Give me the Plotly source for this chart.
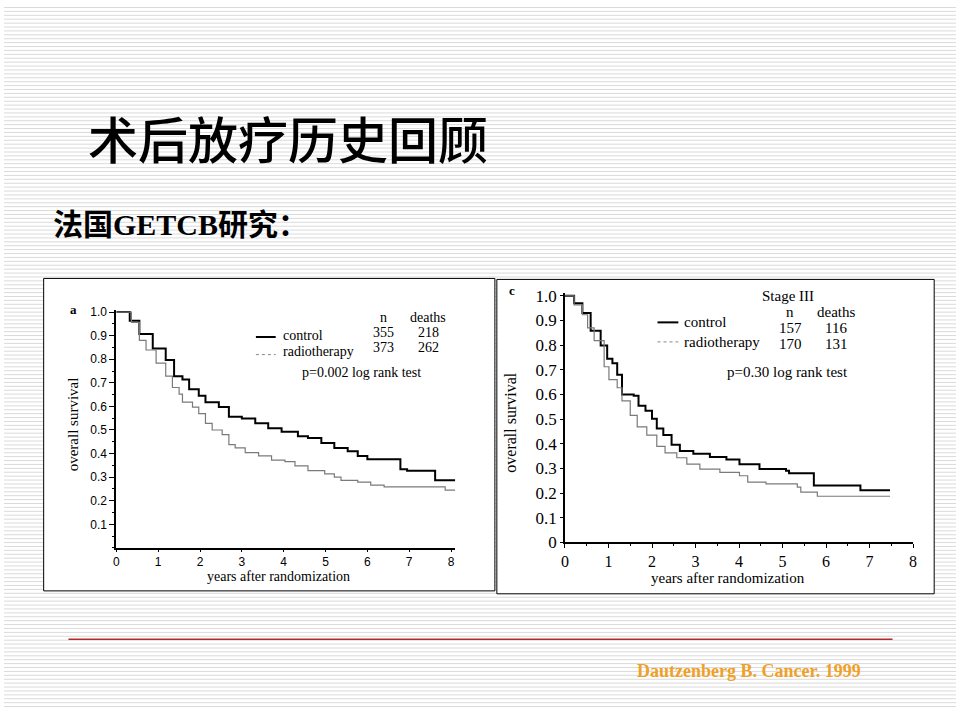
import plotly.graph_objects as go

# ---- data ----
# panel a: all patients
a_control_t = [0, 0.32, 0.55, 0.87, 1.18, 1.38, 1.58, 1.74, 1.97, 2.13, 2.45, 2.69, 3.0, 3.32,
               3.63, 3.95, 4.34, 4.58, 4.9, 5.21, 5.53, 5.77, 6.0, 6.79, 6.95, 7.62, 8.1]
a_control_s = [1.0, 0.963, 0.907, 0.845, 0.797, 0.728, 0.714, 0.673, 0.645, 0.618, 0.597, 0.556, 0.549, 0.528,
               0.507, 0.493, 0.473, 0.466, 0.445, 0.424, 0.41, 0.39, 0.376, 0.334, 0.327, 0.287, 0.287]
a_radio_t = [0, 0.36, 0.55, 0.71, 0.95, 1.18, 1.34, 1.5, 1.58, 1.82, 1.97, 2.13, 2.29, 2.53, 2.69,
             2.84, 3.08, 3.4, 3.71, 4.03, 4.27, 4.58, 4.98, 5.21, 5.37, 5.77, 6.08, 6.4, 7.86, 8.1]
a_radio_s = [1.0, 0.956, 0.88, 0.839, 0.783, 0.728, 0.68, 0.652, 0.618, 0.597, 0.569, 0.528, 0.5, 0.48, 0.438,
             0.424, 0.404, 0.39, 0.372, 0.366, 0.348, 0.328, 0.314, 0.3, 0.286, 0.279, 0.266, 0.259, 0.245, 0.245]

# panel c: stage III
c_control_t = [0, 0.21, 0.4, 0.59, 0.82, 0.97, 1.09, 1.2, 1.31, 1.58, 1.69, 1.85, 2.0, 2.11, 2.26,
               2.45, 2.64, 2.95, 3.33, 3.71, 4.01, 4.47, 5.08, 5.15, 5.72, 6.79, 7.47]
c_control_s = [1.0, 0.97, 0.93, 0.858, 0.798, 0.745, 0.726, 0.68, 0.6, 0.594, 0.554, 0.534, 0.501, 0.462, 0.435,
               0.396, 0.37, 0.359, 0.346, 0.336, 0.317, 0.297, 0.29, 0.28, 0.231, 0.211, 0.211]
c_radio_t = [0, 0.21, 0.4, 0.52, 0.67, 0.9, 1.01, 1.2, 1.31, 1.5, 1.66, 1.88, 2.11, 2.3, 2.57, 2.8,
             3.1, 3.56, 4.01, 4.2, 4.62, 5.34, 5.42, 5.8, 7.47]
c_radio_s = [1.0, 0.963, 0.923, 0.87, 0.818, 0.712, 0.66, 0.627, 0.574, 0.515, 0.468, 0.435, 0.389, 0.363, 0.343, 0.317,
             0.297, 0.284, 0.27, 0.244, 0.237, 0.224, 0.204, 0.187, 0.187]

year_ticks = [0, 1, 2, 3, 4, 5, 6, 7, 8]
a_surv_ticks = [0.1, 0.2, 0.3, 0.4, 0.5, 0.6, 0.7, 0.8, 0.9, 1.0]
c_surv_ticks = [0, 0.1, 0.2, 0.3, 0.4, 0.5, 0.6, 0.7, 0.8, 0.9, 1.0]
c_surv_labels = ["0", "0.1", "0.2", "0.3", "0.4", "0.5", "0.6", "0.7", "0.8", "0.9", "1.0"]

a_table = [["n", "deaths"], ["355", "218"], ["373", "262"]]
c_table = [["n", "deaths"], ["157", "116"], ["170", "131"]]

W, H = 960, 720
SERIF = "Liberation Serif, Times New Roman, serif"
SANS = "Liberation Sans, Arial, sans-serif"
CJK = "Noto Sans CJK SC, sans-serif"


def fx(x):
    return x / W


def fy(y):
    return 1 - y / H


fig = go.Figure()

fig.add_trace(go.Scatter(x=a_control_t, y=a_control_s, mode="lines", line_shape="hv",
                         line=dict(color="black", width=2), xaxis="x", yaxis="y"))
fig.add_trace(go.Scatter(x=a_radio_t, y=a_radio_s, mode="lines", line_shape="hv",
                         line=dict(color="#7a7a7a", width=1.2), xaxis="x", yaxis="y"))
fig.add_trace(go.Scatter(x=c_control_t, y=c_control_s, mode="lines", line_shape="hv",
                         line=dict(color="black", width=2), xaxis="x2", yaxis="y2"))
fig.add_trace(go.Scatter(x=c_radio_t, y=c_radio_s, mode="lines", line_shape="hv",
                         line=dict(color="#7a7a7a", width=1.2), xaxis="x2", yaxis="y2"))

# background stripes of the slide
stripes = " ".join(f"M0,{fy(k * 4 + 0.5)} L1,{fy(k * 4 + 0.5)}" for k in range(180))
shapes = [
    dict(type="path", xref="paper", yref="paper", path=stripes, layer="below",
         line=dict(color="#dadada", width=1)),
    dict(type="rect", xref="paper", yref="paper", x0=fx(40), x1=fx(495), y0=fy(598), y1=fy(278),
         fillcolor="white", line=dict(color="black", width=1), layer="below"),
    dict(type="rect", xref="paper", yref="paper", x0=fx(497), x1=fx(938), y0=fy(601), y1=fy(279),
         fillcolor="white", line=dict(color="black", width=1), layer="below"),
    dict(type="line", xref="paper", yref="paper", x0=fx(65), x1=fx(896), y0=fy(647.5), y1=fy(647.5),
         line=dict(color="#b22a2a", width=1.5)),
    # legend samples
    dict(type="line", xref="paper", yref="paper", x0=fx(254), x1=fx(274), y0=fy(338), y1=fy(338),
         line=dict(color="black", width=2)),
    dict(type="line", xref="paper", yref="paper", x0=fx(254), x1=fx(274), y0=fy(356), y1=fy(356),
         line=dict(color="#888888", width=1, dash="dot")),
    dict(type="line", xref="paper", yref="paper", x0=fx(659), x1=fx(680), y0=fy(323), y1=fy(323),
         line=dict(color="black", width=2)),
    dict(type="line", xref="paper", yref="paper", x0=fx(659), x1=fx(680), y0=fy(343), y1=fy(343),
         line=dict(color="#888888", width=1, dash="dot")),
]


def note(text, x, y, size, family=SERIF, color="black", weight="normal", xanchor="center", angle=0):
    return dict(text=text, x=fx(x), y=fy(y), xref="paper", yref="paper", showarrow=False,
                xanchor=xanchor, yanchor="middle", textangle=angle,
                font=dict(family=family, size=size, color=color, weight=weight))


annotations = [
    note("术后放疗历史回顾", 83, 133, 50, family=CJK, weight=500, xanchor="left"),
    note("法国GETCB研究：", 47, 223, 30, family=SERIF + ", " + CJK, weight="bold", xanchor="left"),
    note("Dautzenberg B. Cancer. 1999", 751, 680, 18, color="#f0a028", weight="bold"),
    # panel a
    note("a", 70, 310, 13, weight="bold"),
    note("control", 279, 336, 14, xanchor="left"),
    note("radiotherapy", 279, 353, 14, xanchor="left"),
    note("p=0.002 log rank test", 360, 374, 14),
    note("overall survival", 70, 427, 15, angle=-90),
    note("years after randomization", 277, 583, 14),
    # panel c
    note("c", 512, 290, 13, weight="bold"),
    note("Stage III", 791, 296, 15),
    note("control", 684, 323, 15, xanchor="left"),
    note("radiotherapy", 684, 343, 15, xanchor="left"),
    note("p=0.30 log rank test", 790, 374, 15),
    note("overall survival", 511, 425, 16, angle=-90),
    note("years after randomization", 730, 585, 15),
]
for i, row in enumerate(a_table):
    annotations.append(note(row[0], 383, 318 + i * 15.5, 14))
    annotations.append(note(row[1], 428, 318 + i * 15.5, 14))
for i, row in enumerate(c_table):
    annotations.append(note(row[0], 793, 312 + i * 16.5, 15))
    annotations.append(note(row[1], 839, 312 + i * 16.5, 15))

fig.update_layout(
    width=W, height=H,
    margin=dict(l=0, r=0, t=0, b=0),
    paper_bgcolor="white",
    plot_bgcolor="rgba(0,0,0,0)",
    showlegend=False,
    shapes=shapes,
    annotations=annotations,
    xaxis=dict(domain=[fx(113.3), fx(455)], range=[0, 8.1], anchor="y",
               tickvals=year_ticks, showgrid=False, zeroline=False,
               showline=True, linecolor="black", linewidth=2,
               ticks="outside", ticklen=2, tickcolor="black",
               tickfont=dict(family=SANS, size=12, color="black")),
    yaxis=dict(domain=[fy(554), fy(310)], range=[0, 1.01], anchor="x",
               tickvals=a_surv_ticks, tickformat=".1f", showgrid=False, zeroline=False,
               showline=True, linecolor="black", linewidth=2,
               ticks="outside", ticklen=5, tickcolor="black",
               minor=dict(dtick=0.05, ticks="outside", ticklen=2, tickcolor="black"),
               tickfont=dict(family=SANS, size=12, color="black")),
    xaxis2=dict(domain=[fx(565.7), fx(916.7)], range=[0, 8], anchor="y2",
                tickvals=year_ticks, showgrid=False, zeroline=False,
                showline=True, linecolor="black", linewidth=1.5,
                ticks="outside", ticklen=4, tickcolor="black",
                minor=dict(dtick=0.5, ticks="outside", ticklen=2, tickcolor="black"),
                tickfont=dict(family=SERIF, size=16, color="black")),
    yaxis2=dict(domain=[fy(548.3), fy(293.2)], range=[0, 1.01], anchor="x2",
                tickvals=c_surv_ticks, ticktext=c_surv_labels, showgrid=False, zeroline=False,
                showline=True, linecolor="black", linewidth=1.5,
                ticks="outside", ticklen=3, tickcolor="black",
                tickfont=dict(family=SERIF, size=17, color="black")),
)

fig.write_html("out.html", config={"displayModeBar": False},
               post_script="document.body.style.margin='0';")
